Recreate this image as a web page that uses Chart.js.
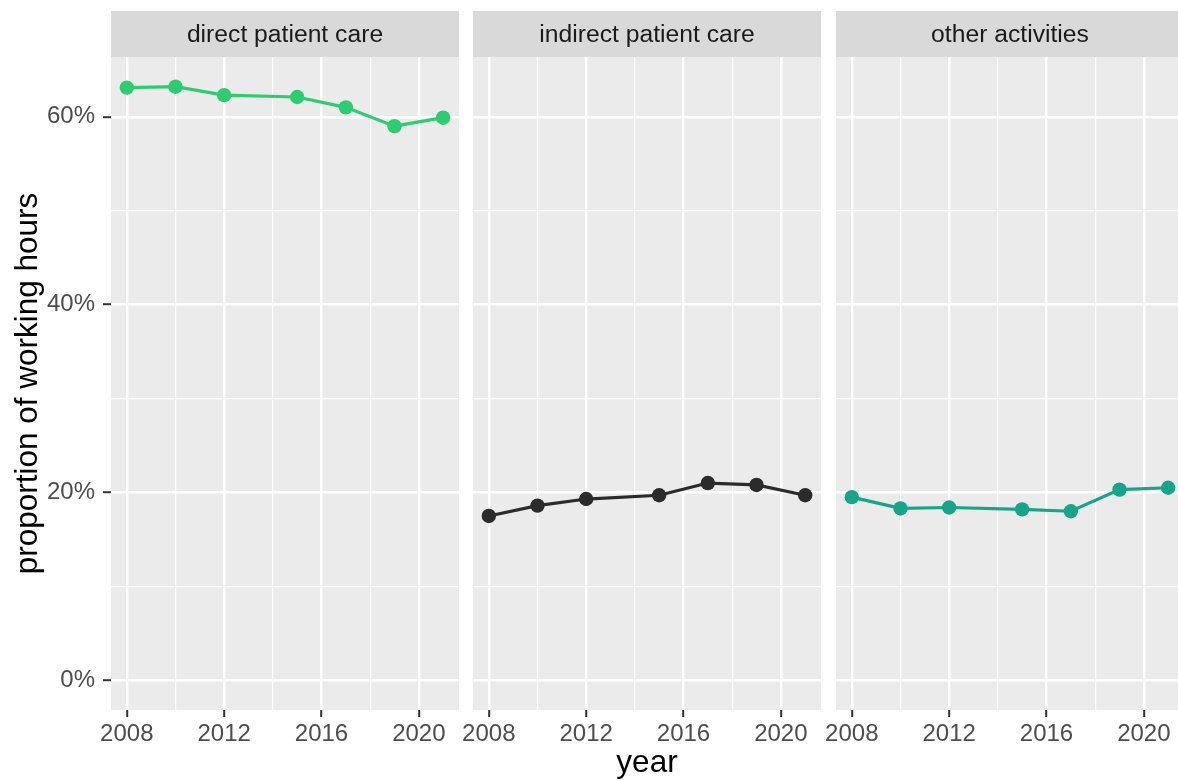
<!DOCTYPE html>
<html>
<head>
<meta charset="utf-8">
<title>Proportion of working hours by activity</title>
<script src="https://cdn.jsdelivr.net/npm/chart.js@4/dist/chart.umd.min.js"></script>
<style>
  html, body { margin: 0; padding: 0; background: #ffffff; overflow: hidden; }
  #wrap { position: relative; width: 1178px; height: 780px; overflow: hidden; }
  canvas { position: absolute; top: 0; }
</style>
</head>
<body>
<div id="wrap">
  <canvas id="p1" width="459" height="780" style="left:0px"></canvas>
  <canvas id="p2" width="368" height="780" style="left:453px"></canvas>
  <canvas id="p3" width="368" height="780" style="left:816px"></canvas>
</div>
<script>
// Survey years and share of working hours (%) per activity
const years = [2008, 2010, 2012, 2015, 2017, 2019, 2021];
const directCare = [63.1, 63.2, 62.3, 62.1, 61.0, 59.0, 59.9];
const indirectCare = [17.5, 18.6, 19.3, 19.7, 21.0, 20.8, 19.7];
const otherActivities = [19.5, 18.3, 18.4, 18.2, 18.0, 20.3, 20.5];

const facetNames = ['direct patient care', 'indirect patient care', 'other activities'];
const yTickLabels = ['0%', '20%', '40%', '60%'];
const xTickLabels = ['2008', '2012', '2016', '2020'];

const FONT = '"Liberation Sans", Arial, Helvetica, sans-serif';
const Y_MIN = -3.16, Y_MAX = 66.36;       // 0..63.2 padded by 5%
const X_MIN = 2007.35, X_MAX = 2021.65;   // 2008..2021 padded by 5%

const isMajorY = v => yTickLabels.includes(Math.round(v) + '%');
const isMajorX = v => xTickLabels.includes(String(Math.round(v)));

// Grey panel background and facet strip label
const facetPlugin = {
  id: 'facet',
  beforeDraw(chart, args, opts) {
    const { ctx, chartArea: a } = chart;
    ctx.save();
    ctx.fillStyle = '#EBEBEB';
    ctx.fillRect(a.left, a.top, a.right - a.left, a.bottom - a.top);
    ctx.fillStyle = '#D9D9D9';
    ctx.fillRect(a.left, 11, a.right - a.left, a.top - 11);
    ctx.fillStyle = '#1A1A1A';
    ctx.font = '24.7px ' + FONT;
    ctx.textAlign = 'center';
    ctx.textBaseline = 'middle';
    ctx.fillText(opts.label, (a.left + a.right) / 2, (11 + a.top) / 2 + 1);
    ctx.restore();
  }
};

function panel(id, label, values, color, cfg) {
  return new Chart(document.getElementById(id), {
    type: 'line',
    data: {
      datasets: [{
        data: years.map((y, i) => ({ x: y, y: values[i] })),
        borderColor: color,
        backgroundColor: color,
        borderWidth: 3.2,
        pointRadius: 7.2,
        pointBorderWidth: 0,
        pointBackgroundColor: color,
        tension: 0,
        clip: false
      }]
    },
    plugins: [facetPlugin],
    options: {
      responsive: false,
      animation: false,
      devicePixelRatio: 1,
      layout: { autoPadding: false, padding: { top: 57, left: cfg.leftPad, right: 0, bottom: 0 } },
      plugins: {
        legend: { display: false },
        tooltip: { enabled: false },
        facet: { label: label }
      },
      scales: {
        x: {
          type: 'linear',
          min: X_MIN, max: X_MAX,
          border: { display: false },
          grid: {
            color: '#FFFFFF',
            lineWidth: c => (c.tick && isMajorX(c.tick.value)) ? 2.4 : 1.2,
            drawTicks: true,
            tickLength: 7,
            tickWidth: 2,
            tickColor: c => (c.tick && isMajorX(c.tick.value)) ? '#333333' : 'rgba(0,0,0,0)'
          },
          ticks: {
            stepSize: 2,
            includeBounds: false,
            autoSkip: false,
            maxRotation: 0,
            padding: 3,
            color: '#4D4D4D',
            font: { family: FONT, size: 24 },
            callback: v => isMajorX(v) ? String(Math.round(v)) : ''
          },
          title: cfg.xTitle ? {
            display: true,
            text: cfg.xTitle,
            color: '#000000',
            font: { family: FONT, size: 31.5, lineHeight: 1 },
            padding: { top: 0, bottom: 1 }
          } : { display: false },
          afterFit: s => { s.height = 70; s.paddingLeft = 0; s.paddingRight = 0; }
        },
        y: {
          type: 'linear',
          min: Y_MIN, max: Y_MAX,
          border: { display: false },
          grid: {
            color: '#FFFFFF',
            lineWidth: c => (c.tick && isMajorY(c.tick.value)) ? 2.4 : 1.2,
            drawTicks: cfg.yAxis,
            tickLength: 8,
            tickWidth: 2,
            tickColor: c => (c.tick && isMajorY(c.tick.value)) ? '#333333' : 'rgba(0,0,0,0)'
          },
          ticks: {
            display: cfg.yAxis,
            stepSize: 10,
            includeBounds: false,
            padding: 8,
            color: '#4D4D4D',
            font: { family: FONT, size: 24 },
            callback: v => isMajorY(v) ? Math.round(v) + '%' : ''
          },
          title: cfg.yAxis ? {
            display: true,
            text: 'proportion of working hours',
            color: '#000000',
            font: { family: FONT, size: 31.5, lineHeight: 1.2 },
            padding: { top: 9, bottom: 0 }
          } : { display: false },
          afterFit: s => { s.width = cfg.yAxis ? 111 : 0; s.paddingTop = 0; s.paddingBottom = 0; }
        }
      }
    }
  });
}

panel('p1', facetNames[0], directCare, '#2ECC71', { yAxis: true, leftPad: 0, xTitle: null });
panel('p2', facetNames[1], indirectCare, '#2B2B2B', { yAxis: false, leftPad: 20, xTitle: 'year' });
panel('p3', facetNames[2], otherActivities, '#17A589', { yAxis: false, leftPad: 20, xTitle: null });
</script>
</body>
</html>
